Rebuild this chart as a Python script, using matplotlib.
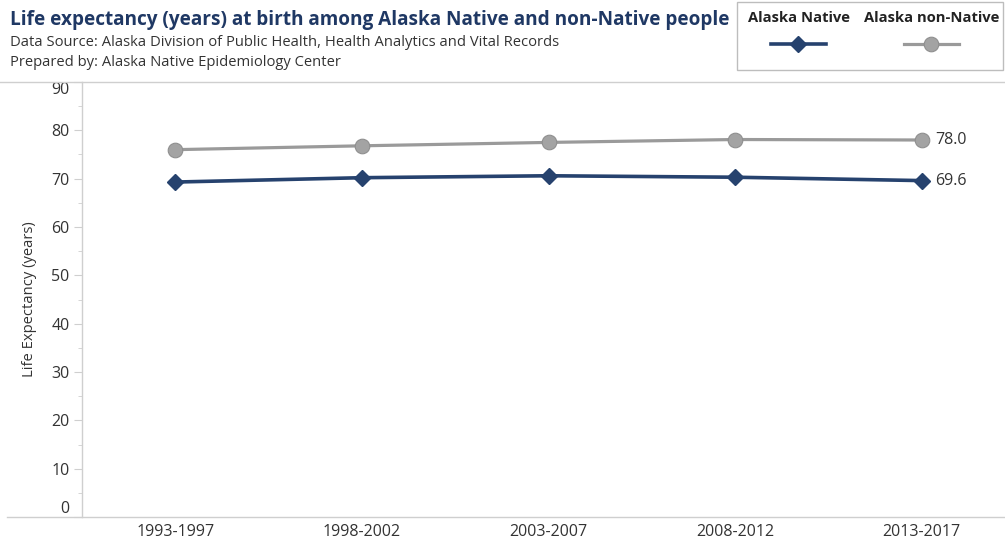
import matplotlib.pyplot as plt
from matplotlib.lines import Line2D
from matplotlib.patches import Rectangle

plt.rcParams['font.family'] = ['Open Sans', 'DejaVu Sans']

# Life expectancy by 5-year period
periods = ["1993-1997", "1998-2002", "2003-2007", "2008-2012", "2013-2017"]
native = [69.3, 70.2, 70.6, 70.3, 69.6]
non_native = [76.0, 76.8, 77.5, 78.1, 78.0]

navy = "#26426e"
grey = "#9a9a9a"
text_col = "#333333"
rule_col = "#cfcfcf"

fig = plt.figure(figsize=(10.05, 5.4), dpi=100)
W, H = 1005, 540

def fx(px):
    return px / W

def fy(py):
    return 1 - py / H

# plot area: left 82px, top 82px, bottom 517px; right runs past the edge
ax = fig.add_axes([fx(82), fy(517), fx(1015 - 82), fy(82) - fy(517)])
x = list(range(len(periods)))

ax.plot(x, non_native, color=grey, lw=2.3, marker="o", ms=10.5,
        markerfacecolor="#a3a3a3", markeredgecolor="#8f8f8f", markeredgewidth=0.8,
        solid_capstyle="butt", zorder=3)
ax.plot(x, native, color=navy, lw=2.6, marker="D", ms=8.5,
        markerfacecolor=navy, markeredgecolor=navy,
        solid_capstyle="butt", zorder=4)

# end-of-line value labels
ax.annotate(f"{non_native[-1]:.1f}", (x[-1], non_native[-1]), xytext=(9.5, 0),
            textcoords="offset points", va="center", ha="left", fontsize=11.5, color=text_col)
ax.annotate(f"{native[-1]:.1f}", (x[-1], native[-1]), xytext=(9.5, 0),
            textcoords="offset points", va="center", ha="left", fontsize=11.5, color=text_col)

ax.set_xlim(-0.5, 4.5)
ax.set_ylim(0, 90)
ax.set_xticks(x)
ax.set_xticklabels(periods, fontsize=11.5, color=text_col)
ax.tick_params(axis="x", length=0, pad=5)

ax.set_yticks(range(0, 91, 10))
ax.set_yticks(range(5, 90, 10), minor=True)
ax.tick_params(axis="y", which="major", length=6, color=rule_col, labelsize=11.5,
               labelcolor=text_col, pad=3)
ax.tick_params(axis="y", which="minor", length=3, color=rule_col)
labels = ax.get_yticklabels()
labels[0].set_va("bottom")
labels[-1].set_va("top")

for side in ["top", "right", "bottom"]:
    ax.spines[side].set_visible(False)
ax.spines["left"].set_color(rule_col)
ax.spines["left"].set_linewidth(1)

ax.set_ylabel("Life Expectancy (years)", fontsize=10.6, color=text_col, labelpad=10)

# horizontal rules at the top of the plot and along the baseline
fig.add_artist(Line2D([0, 1], [fy(82), fy(82)], color=rule_col, lw=1))
fig.add_artist(Line2D([fx(7), 1], [fy(517), fy(517)], color=rule_col, lw=1))

# title block
fig.text(fx(10), fy(20), "Life expectancy (years) at birth among Alaska Native and non-Native people",
         fontsize=13.7, fontweight="bold", color="#1f3864", va="center", ha="left")
fig.text(fx(10), fy(43), "Data Source: Alaska Division of Public Health, Health Analytics and Vital Records",
         fontsize=10.6, color=text_col, va="center", ha="left")
fig.text(fx(10), fy(62), "Prepared by: Alaska Native Epidemiology Center",
         fontsize=10.6, color=text_col, va="center", ha="left")

# legend box
fig.add_artist(Rectangle((fx(737), fy(70)), fx(1003 - 737), fy(2) - fy(70),
                         fill=False, edgecolor="#bdbdbd", lw=1))
fig.text(fx(799), fy(18), "Alaska Native", fontsize=10.6, fontweight="bold",
         color="#222222", ha="center", va="center")
fig.text(fx(932), fy(18), "Alaska non-Native", fontsize=10.6, fontweight="bold",
         color="#222222", ha="center", va="center")
fig.add_artist(Line2D([fx(771), fx(826)], [fy(44), fy(44)], color=navy, lw=2.6))
fig.add_artist(Line2D([fx(798)], [fy(44)], marker="D", ms=8.5, color=navy))
fig.add_artist(Line2D([fx(904), fx(959)], [fy(44), fy(44)], color=grey, lw=2.3))
fig.add_artist(Line2D([fx(931)], [fy(44)], marker="o", ms=10.5,
                      markerfacecolor="#a3a3a3", markeredgecolor="#8f8f8f", markeredgewidth=0.8))

fig.savefig("out.png", dpi=100)
